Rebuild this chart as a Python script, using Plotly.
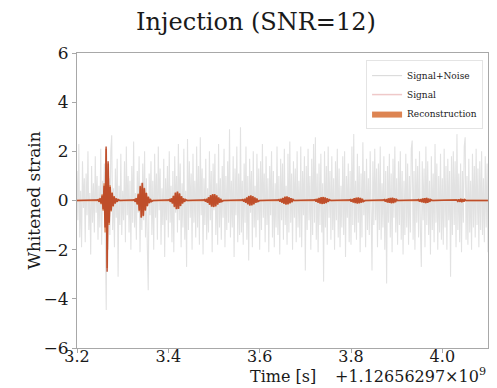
import numpy as np
import plotly.graph_objects as go

# ---------------- data ----------------
t_start, t_end = 3.2, 4.1
x_label = "Time [s]"
y_label = "Whitened strain"
offset_label = "+1.12656297×10<sup>9</sup>"

# whitened strain of signal+noise, sampled evenly from 3.2 to 4.1 s
noise_values = [
    1.2, -0.8, 2.3, -1.5, 0.4, -1.9, 1.6, -0.3, 0.9, -1.7, 1.1, -0.6, 2.0, -1.2, 0.3, -2.2, 1.4, -0.9, 0.7, -1.3,
    1.8, -0.5, 1.0, -1.6, 0.6, -1.1, 2.1, -1.8, 0.8, -0.4, 1.5, -1.0, -4.45, 1.3, -2.0, 0.9, -1.4, 2.0, 2.65, -1.2,
    0.5, -1.9, 1.3, -0.7, 1.7, -3.1, 0.6, -1.0, 1.9, -1.4, 0.4, -0.8, 1.6, -1.7, 2.2, -0.6, 1.0, -1.3, 0.8, -2.0,
    1.4, -0.9, 2.4, -1.1, 0.3, -1.6, 1.2, -0.5, 1.8, -2.1, 0.7, -1.2, 1.5, -0.8, 2.0, -1.5, 0.9, -1.9, -3.65, 1.1,
    -0.6, 1.6, -1.4, 0.8, -2.0, 1.9, -0.7, 1.1, -1.6, 2.2, -0.4, 1.3, -1.8, 0.5, -1.0, 1.7, -2.3, 0.9, -0.8, 1.4,
    -1.5, 2.0, -0.9, 0.6, -1.7, 1.2, -2.1, 1.8, -0.5, 1.0, -1.3, 2.3, -0.8, 1.5, -1.9, 0.7, -1.1, 2.1, -1.6, 0.4,
    -2.7, 2.5, -1.2, 1.6, -0.7, 1.1, -2.0, 1.9, -0.9, 0.8, -1.5, 2.2, -1.1, 1.4, -1.8, 2.57, -0.6, 1.3, -2.2, 0.9,
    -1.0, 1.7, -1.6, 0.5, -1.3, 2.0, -0.8, 1.2, -2.1, 1.5, -0.4, 1.9, -1.4, 0.7, -1.8, 2.3, -1.1, 0.9, -1.6, 1.4,
    -0.7, 2.1, -1.9, 1.0, -1.2, 1.6, -0.9, 2.9, -1.5, 0.8, -1.1, 1.8, -2.3, 1.3, -0.6, 2.2, -1.7, 1.1, -1.4, 2.98,
    -1.3, 0.8, -1.8, 1.5, -0.9, 2.2, -1.6, 1.0, -2.44, 1.7, -0.5, 1.2, -1.9, 2.0, -1.1, 0.6, -1.5, 1.9, -0.8, 1.3,
    -2.0, 1.6, -1.2, 2.3, -0.7, 1.1, -1.7, 1.8, -1.0, 0.9, -2.1, 1.4, -0.6, 2.0, -1.5, 1.2, -1.9, 0.7, -1.1, 2.2,
    -1.4, 1.0, -2.2, 1.7, -0.8, 1.5, -1.6, 2.1, -1.0, 0.6, -1.8, 1.9, -1.3, 2.4, -0.9, 1.1, -2.0, 1.6, -0.7, 1.3,
    -1.7, 2.0, -1.1, 0.8, -1.5, 2.2, -1.9, 1.2, -0.6, 1.8, -2.85, 1.4, -1.2, 2.1, -0.8, 1.0, -2.0, 1.7, -1.4, 2.3,
    -0.9, 2.57, -1.6, 1.1, -2.1, 1.5, -1.0, 1.9, -1.3, 0.7, -3.3, 2.0, -1.1, 1.4, -1.8, 2.2, -0.7, 1.2, -1.6, 1.8,
    -1.2, 0.9, -2.0, 1.6, -0.8, 2.1, -1.5, 1.3, -1.9, 0.6, -1.1, 1.8, -1.4, 2.0, -2.3, 1.0, -0.7, 1.5, -1.7, 1.2,
    -1.8, 2.2, -1.0, 2.7, -1.3, 0.8, -1.6, 1.9, -0.9, 1.4, -2.1, 1.1, -1.5, 2.37, -0.6, 1.2, -1.9, 1.7, -1.2, 0.9,
    -1.4, 2.0, -1.7, -2.85, 1.6, -1.0, 2.1, -0.8, 1.3, -1.9, 1.5, -1.2, 2.2, -1.6, 0.7, -1.1, 1.8, -2.0, 1.2, -3.38,
    1.4, -0.9, 1.9, -1.5, 1.1, -2.1, 1.7, -0.7, 2.2, -1.3, 0.9, -1.8, 1.6, -1.0, 2.0, -1.6, 1.2, -2.2, 0.8, -1.4,
    1.9, -1.1, 1.5, -1.8, 1.0, -1.3, 2.1, 2.44, -1.6, 1.2, -2.0, 1.7, -0.9, 1.4, -1.5, 2.0, -1.2, -2.7, 1.6, -0.8,
    1.3, -1.9, 2.2, -1.0, 1.6, -1.4, 0.8, -2.2, 1.8, -1.2, 1.1, -1.7, 2.3, -0.9, 1.5, -2.0, 1.0, -1.3, 1.9, -1.6,
    0.9, -1.8, 2.1, -1.1, 1.4, -2.0, 1.7, -0.8, 1.2, -3.1, 1.8, -1.4, 2.0, -1.0, 1.6, -1.9, 2.7, -1.2, 1.1, -1.7,
    1.5, -2.1, 1.2, -0.9, 2.2, 2.57, -1.6, 1.0, -1.8, 1.7, -1.3, 0.8, -2.0, 1.9, -1.1, 1.4, -1.5, 2.1, -1.0, 1.3,
    -1.9, 1.6, -1.2, 2.0, -1.4, 0.9, -1.7, 1.8, -1.1, 1.5, -2.1,
]

# echo bursts of the injected signal: centre times and successive extrema
burst_centers = [3.266, 3.342, 3.421, 3.500, 3.579, 3.657, 3.736, 3.813, 3.888, 3.963, 4.040]
signal_extrema = [
    [0.03, -0.05, 0.08, -0.12, 0.2, -0.35, 0.6, -1.1, 2.2, -2.9, 1.6, -0.9, 0.55, -0.4, 0.3, -0.22, 0.16, -0.12, 0.08, -0.05, 0.03],
    [0.03, -0.05, 0.09, -0.15, 0.25, -0.4, 0.58, -0.7, 0.72, -0.62, 0.5, -0.4, 0.3, -0.22, 0.15, -0.1, 0.06, -0.04],
    [0.03, -0.05, 0.08, -0.12, 0.18, -0.25, 0.31, -0.35, 0.36, -0.33, 0.28, -0.22, 0.17, -0.12, 0.08, -0.05, 0.03],
    [0.03, -0.04, 0.06, -0.09, 0.13, -0.17, 0.21, -0.24, 0.25, -0.26, 0.25, -0.23, 0.2, -0.16, 0.12, -0.09, 0.06, -0.04],
    [0.03, -0.04, 0.06, -0.09, 0.12, -0.15, 0.18, -0.2, 0.2, -0.19, 0.17, -0.15, 0.12, -0.09, 0.07, -0.04],
    [0.03, -0.04, 0.06, -0.08, 0.1, -0.13, 0.15, -0.16, 0.16, -0.15, 0.13, -0.11, 0.09, -0.06, 0.04],
    [0.03, -0.04, 0.06, -0.08, 0.1, -0.12, 0.13, -0.14, 0.14, -0.13, 0.12, -0.1, 0.08, -0.05, 0.03],
    [0.03, -0.04, 0.05, -0.07, 0.09, -0.1, 0.11, -0.12, 0.12, -0.11, 0.1, -0.08, 0.06, -0.04],
    [0.03, -0.04, 0.05, -0.07, 0.08, -0.09, 0.1, -0.11, 0.11, -0.1, 0.08, -0.06, 0.04],
    [0.03, -0.04, 0.05, -0.06, 0.07, -0.08, 0.09, -0.1, 0.1, -0.09, 0.07, -0.05, 0.03],
    [0.02, -0.03, 0.04, -0.05, 0.06, -0.06, 0.05, -0.04, 0.03],
]
recon_extrema = [
    [0.04, -0.06, 0.1, -0.15, 0.25, -0.42, 0.7, -1.3, 2.1, -2.75, 1.5, -1.0, 0.62, -0.45, 0.33, -0.25, 0.18, -0.13, 0.09, -0.06, 0.04],
    [0.04, -0.06, 0.1, -0.17, 0.28, -0.44, 0.6, -0.68, 0.7, -0.64, 0.52, -0.42, 0.32, -0.24, 0.16, -0.11, 0.07, -0.05],
    [0.04, -0.06, 0.09, -0.13, 0.2, -0.27, 0.32, -0.34, 0.35, -0.34, 0.29, -0.23, 0.18, -0.13, 0.09, -0.06, 0.04],
    [0.04, -0.05, 0.07, -0.1, 0.14, -0.18, 0.22, -0.25, 0.26, -0.27, 0.26, -0.24, 0.21, -0.17, 0.13, -0.1, 0.07, -0.05],
    [0.04, -0.05, 0.07, -0.1, 0.13, -0.16, 0.19, -0.21, 0.21, -0.2, 0.18, -0.16, 0.13, -0.1, 0.08, -0.05],
    [0.04, -0.05, 0.07, -0.09, 0.11, -0.14, 0.16, -0.17, 0.17, -0.16, 0.14, -0.12, 0.1, -0.07, 0.05],
    [0.04, -0.05, 0.07, -0.09, 0.11, -0.13, 0.14, -0.15, 0.15, -0.14, 0.13, -0.11, 0.09, -0.06, 0.04],
    [0.04, -0.05, 0.06, -0.08, 0.1, -0.11, 0.12, -0.13, 0.13, -0.12, 0.11, -0.09, 0.07, -0.05],
    [0.04, -0.05, 0.06, -0.08, 0.09, -0.1, 0.11, -0.12, 0.12, -0.11, 0.09, -0.07, 0.05],
    [0.04, -0.05, 0.06, -0.07, 0.08, -0.09, 0.1, -0.11, 0.11, -0.1, 0.08, -0.06, 0.04],
    [0.03, -0.04, 0.05, -0.06, 0.07, -0.07, 0.06, -0.05, 0.04],
]
half_period = 0.0022  # spacing of successive extrema [s]

# ---------------- build series ----------------
t_noise = np.linspace(t_start, t_end, len(noise_values))
n_sig = int(round((t_end - t_start) / half_period)) + 1
t_sig = t_start + half_period * np.arange(n_sig)
signal = np.zeros(n_sig)
recon = np.zeros(n_sig)
for c, s_list, r_list in zip(burst_centers, signal_extrema, recon_extrema):
    peak = int(np.argmax(np.abs(s_list)))
    start = int(round((c - t_start) / half_period)) - peak
    for k, (sv, rv) in enumerate(zip(s_list, r_list)):
        j = start + k
        if 0 <= j < n_sig:
            signal[j] = sv
            recon[j] = rv

SERIF = "DejaVu Serif"
TXT = "#1a1a1a"
GRAY_AX = "#a8a8a8"

fig = go.Figure()
fig.add_trace(go.Scatter(
    x=t_noise, y=noise_values, mode="lines", name="Signal+Noise",
    line=dict(color="#e2e2e2", width=1.1), showlegend=False, hoverinfo="skip"))
fig.add_trace(go.Scatter(
    x=t_sig, y=recon, mode="lines", name="Reconstruction", fill="tozeroy",
    fillcolor="rgba(221,132,82,0.9)", line=dict(color="rgba(221,132,82,1)", width=1.4),
    showlegend=False))
fig.add_trace(go.Scatter(
    x=t_sig, y=signal, mode="lines", name="Signal",
    line=dict(color="rgba(180,60,30,0.75)", width=1.7), showlegend=False))

# legend entries (styled like the reference legend)
fig.add_trace(go.Scatter(x=[None], y=[None], mode="lines", name="Signal+Noise",
                         line=dict(color="#dcdcdc", width=1.2), legendrank=1))
fig.add_trace(go.Scatter(x=[None], y=[None], mode="lines", name="Signal",
                         line=dict(color="rgba(210,100,100,0.35)", width=1.5), legendrank=2))
fig.add_trace(go.Scatter(x=[None], y=[None], mode="lines", name="Reconstruction", fill="toself",
                         fillcolor="#dd8452", line=dict(color="#dd8452", width=0), legendrank=3))

fig.update_layout(
    width=497, height=388,
    margin=dict(l=77, r=9, t=53, b=40),
    paper_bgcolor="white", plot_bgcolor="white",
    font=dict(family=SERIF, color=TXT),
    title=dict(text="Injection (SNR=12)", x=256 / 497, xanchor="center", xref="container",
               y=1 - 22 / 388, yanchor="middle", yref="container",
               font=dict(family=SERIF, size=24, color=TXT)),
    showlegend=True,
    legend=dict(x=0.988, y=0.976, xanchor="right", yanchor="top",
                bgcolor="white", bordercolor="#e4e4e4", borderwidth=1,
                font=dict(family=SERIF, size=9, color=TXT),
                itemwidth=30, tracegroupgap=0),
    xaxis=dict(range=[t_start, t_end], tickvals=[3.2, 3.4, 3.6, 3.8, 4.0],
               ticktext=["3.2", "3.4", "3.6", "3.8", "4.0"], automargin=False,
               showgrid=False, zeroline=False, showline=True, linecolor=GRAY_AX, linewidth=1,
               mirror=True, ticks="outside", tickcolor=GRAY_AX, ticklen=4,
               ticklabelstandoff=-10,
               tickfont=dict(family=SERIF, size=16, color=TXT)),
    yaxis=dict(range=[-6, 6], tickvals=[-6, -4, -2, 0, 2, 4, 6], automargin=False,
               showgrid=False, zeroline=False, showline=True, linecolor=GRAY_AX, linewidth=1,
               mirror=True, ticks="outside", tickcolor=GRAY_AX, ticklen=4,
               tickfont=dict(family=SERIF, size=17, color=TXT)),
)
fig.add_annotation(text=y_label, xref="paper", yref="paper", x=(33 - 77) / 411, y=0.5,
                   xanchor="center", yanchor="middle", textangle=-90, showarrow=False,
                   font=dict(family=SERIF, size=17, color=TXT))
fig.add_annotation(text=x_label, xref="paper", yref="paper", x=0.5, y=(348 - 388) / 295,
                   xanchor="center", yanchor="bottom", showarrow=False,
                   font=dict(family=SERIF, size=16, color=TXT))
fig.add_annotation(text=offset_label, xref="paper", yref="paper", x=1.0, y=(348 - 388) / 295,
                   xanchor="right", yanchor="bottom", showarrow=False,
                   font=dict(family=SERIF, size=16, color=TXT))

fig.write_html("out.html")
